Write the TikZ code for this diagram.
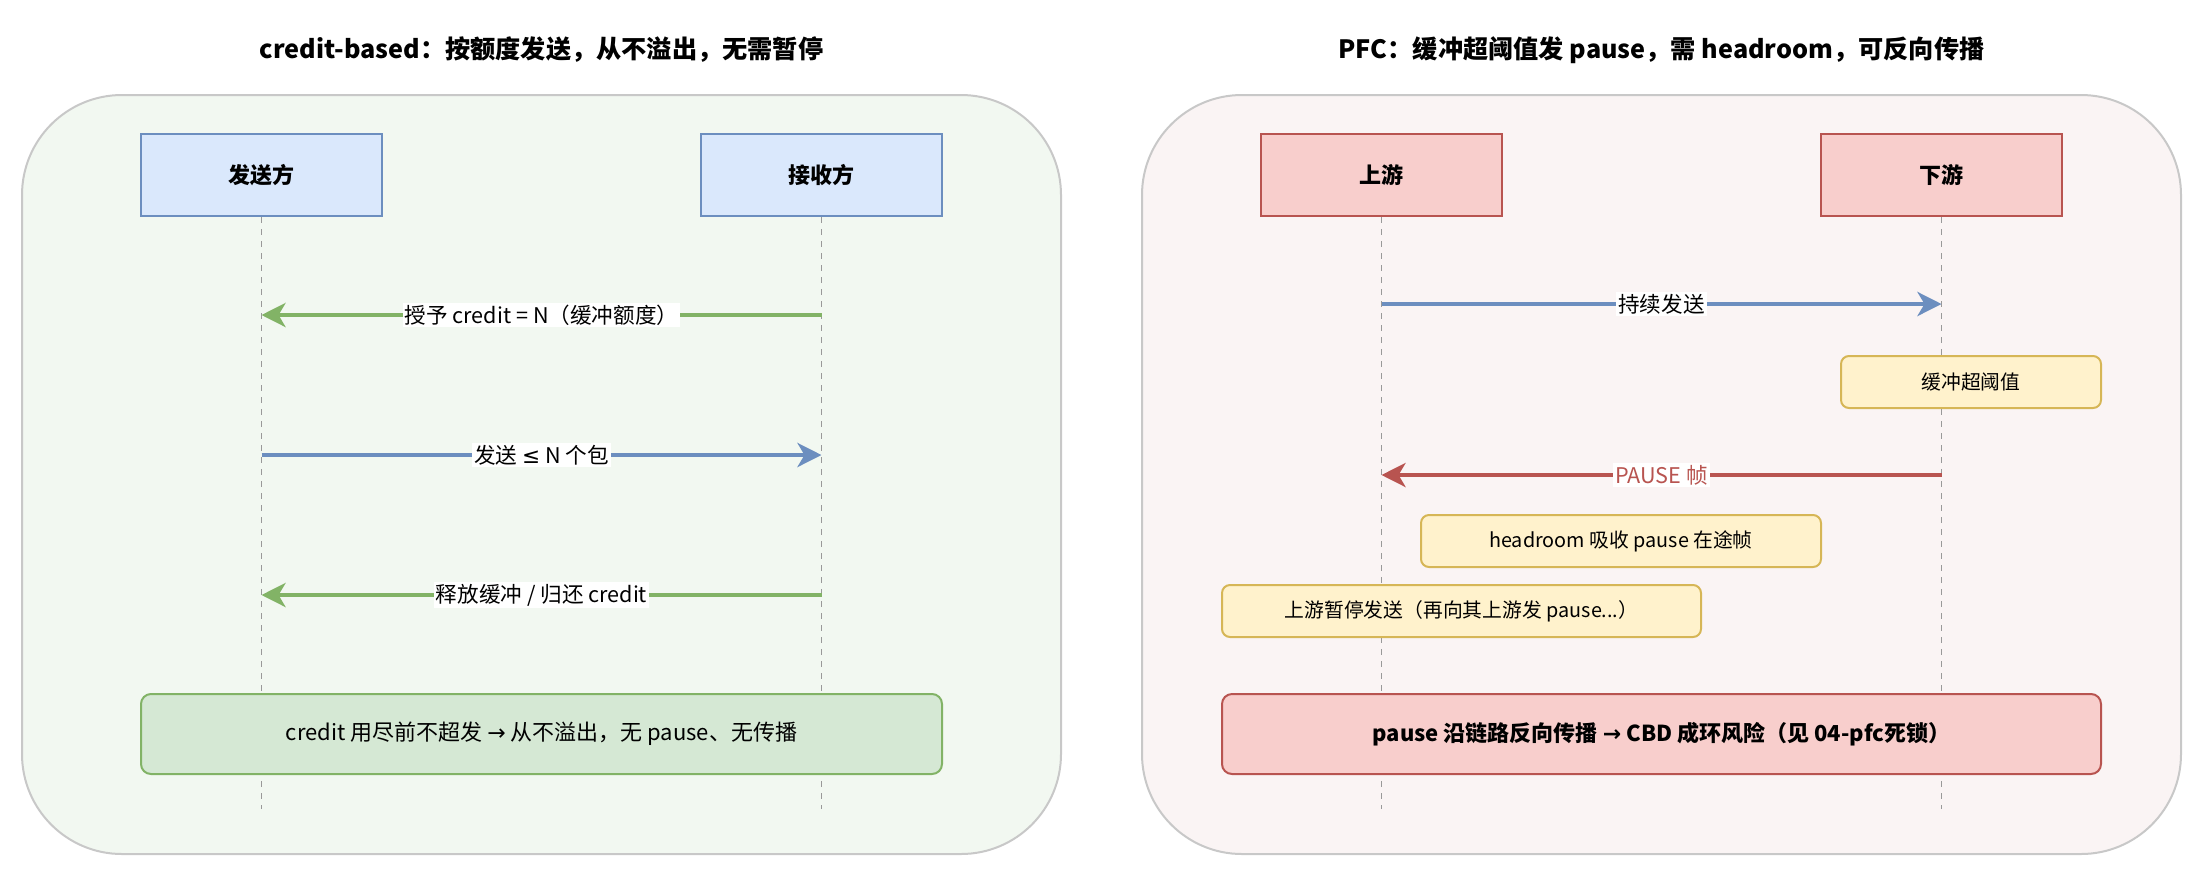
\documentclass[tikz,border=0pt]{standalone}
\usepackage{fontspec}
\setmainfont{Noto Sans CJK SC}
\newfontfamily\symfont{DejaVu Sans}
\usetikzlibrary{arrows.meta,positioning}
\definecolor{bluefill}{HTML}{DAE8FC}
\definecolor{bluedraw}{HTML}{6C8EBF}
\definecolor{redfill}{HTML}{F8CECC}
\definecolor{reddraw}{HTML}{B85450}
\definecolor{greenfill}{HTML}{D5E8D4}
\definecolor{greendraw}{HTML}{82B366}
\definecolor{notefill}{HTML}{FFF2CC}
\definecolor{notedraw}{HTML}{D6B656}
\definecolor{panelgray}{HTML}{C8C8C8}
\definecolor{panelgreen}{HTML}{F2F8F1}
\definecolor{panelred}{HTML}{FAF4F4}
\definecolor{lifegray}{HTML}{999999}
\tikzset{
  panel/.style={draw=panelgray,line width=1pt,rounded corners=50pt},
  title/.style={font=\fontsize{12.6}{15}\selectfont\bfseries},
  actor/.style={line width=1pt,minimum width=120.5pt,minimum height=41pt,inner sep=0pt,font=\fontsize{11}{13}\selectfont\bfseries},
  bluebox/.style={actor,draw=bluedraw,fill=bluefill},
  redbox/.style={actor,draw=reddraw,fill=redfill},
  notebox/.style={draw=notedraw,fill=notefill,line width=1pt,rounded corners=4pt,minimum height=26pt,inner sep=0pt,font=\fontsize{9.9}{11}\selectfont},
  sumbox/.style={line width=1pt,rounded corners=5pt,minimum height=40pt,inner sep=0pt,font=\fontsize{11}{13}\selectfont},
  lifeline/.style={draw=lifegray,line width=.75pt,dash pattern=on 3pt off 3pt},
  flow/.style={-{Stealth[length=12pt,width=12pt,inset=3.5pt]},line width=2.2pt},
  msg/.style={fill=white,text=black,inner sep=1pt,font=\fontsize{10.8}{13}\selectfont},
}
\begin{document}
\begin{tikzpicture}[x=0.5pt,y=-0.5pt]
  \useasboundingbox (0,0) rectangle (2195,869);

  % credit-based panel
  \draw[panel,fill=panelgreen] (22,95) rectangle (1061,854);
  \node[title] (ltitle) at (541.5,50) {credit-based：按额度发送，从不溢出，无需暂停};

  \node[bluebox] (snd) at (261.5,175) {发送方};
  \node[bluebox,right=158.5pt of snd] (rcv) {接收方};

  \coordinate (sndend) at (snd.south |- 0,809);
  \coordinate (rcvend) at (rcv.south |- 0,809);
  \draw[lifeline] (snd.south) -- (sndend);
  \draw[lifeline] (rcv.south) -- (rcvend);

  \coordinate (s1) at (snd.south |- 0,315);
  \coordinate (r1) at (rcv.south |- 0,315);
  \coordinate (s2) at (snd.south |- 0,455);
  \coordinate (r2) at (rcv.south |- 0,455);
  \coordinate (s3) at (snd.south |- 0,595);
  \coordinate (r3) at (rcv.south |- 0,595);

  \draw[flow,greendraw] (r1) -- node[msg] {授予 credit = N（缓冲额度）} (s1);
  \draw[flow,bluedraw] (s2) -- node[msg] {发送 {\symfont ≤} N 个包} (r2);
  \draw[flow,greendraw] (r3) -- node[msg] {释放缓冲 / 归还 credit} (s3);

  \node[sumbox,draw=greendraw,fill=greenfill,minimum width=400.5pt] (lsum) at (541.5,734)
    {credit 用尽前不超发 {\symfont →} 从不溢出，无 pause、无传播};

  % PFC panel
  \draw[panel,fill=panelred] (1142,95) rectangle (2181,854);
  \node[title] (rtitle) at (1661.5,50) {PFC：缓冲超阈值发 pause，需 headroom，可反向传播};

  \node[redbox] (up) at (1381.5,175) {上游};
  \node[redbox,right=158.5pt of up] (down) {下游};

  \coordinate (upend) at (up.south |- 0,809);
  \coordinate (downend) at (down.south |- 0,809);
  \draw[lifeline] (up.south) -- (upend);
  \draw[lifeline] (down.south) -- (downend);

  \coordinate (u1) at (up.south |- 0,304);
  \coordinate (d1) at (down.south |- 0,304);
  \coordinate (u2) at (up.south |- 0,475);
  \coordinate (d2) at (down.south |- 0,475);

  \draw[flow,bluedraw] (u1) -- node[msg] {持续发送} (d1);
  \node[notebox,minimum width=130pt] (thresh) at (1971,382) {缓冲超阈值};
  \draw[flow,reddraw] (d2) -- node[msg,text=reddraw] {PAUSE 帧} (u2);
  \node[notebox,minimum width=200pt] (headroom) at (1621,541) {headroom 吸收 pause 在途帧};
  \node[notebox,minimum width=239.5pt] (stop) at (1461.5,611) {上游暂停发送（再向其上游发 pause...）};

  \node[sumbox,draw=reddraw,fill=redfill,minimum width=439.5pt,font=\fontsize{11}{13}\selectfont\bfseries] (rsum) at (1661.5,734)
    {pause 沿链路反向传播 {\symfont →} CBD 成环风险（见 04-pfc死锁）};
\end{tikzpicture}
\end{document}
